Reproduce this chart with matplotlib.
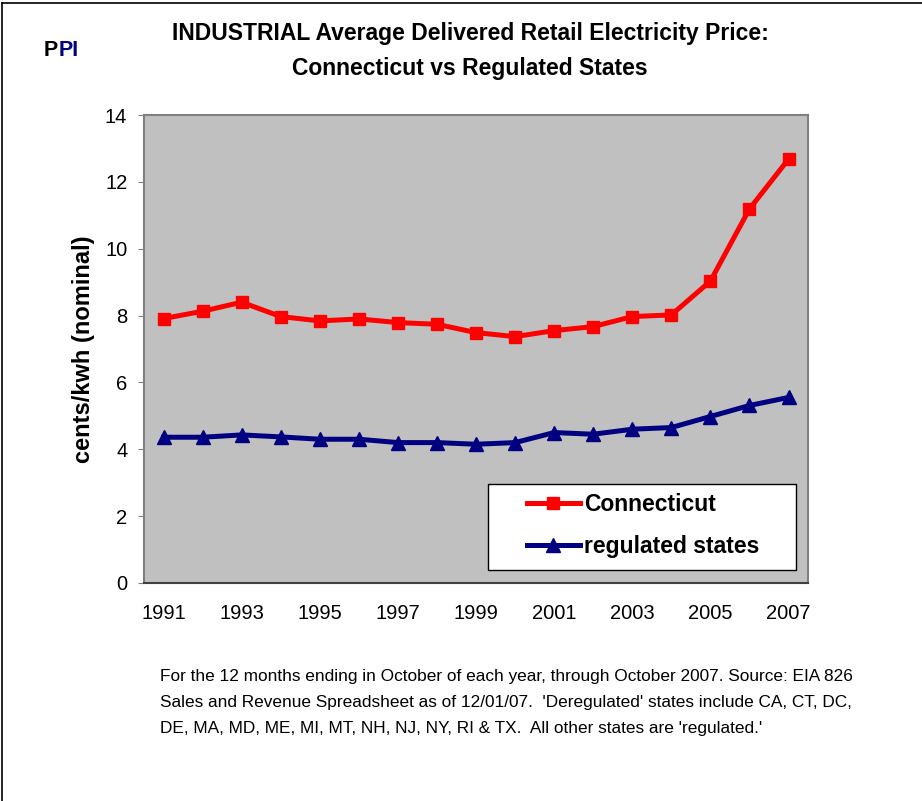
import matplotlib
matplotlib.use("Agg")
from matplotlib import pyplot as plt
from matplotlib.patches import Rectangle
from matplotlib.lines import Line2D

years = list(range(1991, 2008))
connecticut = [7.91, 8.13, 8.40, 7.97, 7.84, 7.90, 7.79, 7.74, 7.49, 7.37,
               7.55, 7.67, 7.97, 8.02, 9.03, 11.19, 12.68]
regulated = [4.36, 4.36, 4.43, 4.37, 4.30, 4.30, 4.20, 4.20, 4.15, 4.20,
             4.50, 4.45, 4.60, 4.65, 4.98, 5.31, 5.55]
xlabels = [str(y) for y in range(1991, 2008, 2)]
ylabels = list(range(0, 15, 2))

plt.rcParams['font.family'] = ['Liberation Sans', 'DejaVu Sans']

fig = plt.figure(figsize=(9.22, 8.01), dpi=100)

# figure frame (left/top edges visible in the original)
fig.add_artist(Line2D([0.002, 0.002], [0, 0.996], transform=fig.transFigure, color="black", lw=1.2))
fig.add_artist(Line2D([0.002, 1.0], [0.996, 0.996], transform=fig.transFigure, color="black", lw=1.2))

ax = fig.add_axes([0.1562, 0.2722, 0.7202, 0.5842])
ax.set_facecolor("#C0C0C0")

ax.plot(years, connecticut, color="#FF0000", lw=3.6, marker="s", ms=8, label="Connecticut")
ax.plot(years, regulated, color="#000080", lw=3.6, marker="^", ms=9.5, label="regulated states")

ax.set_xlim(1990.5, 2007.5)
ax.set_ylim(0, 14)
ax.set_xticks(range(1991, 2008, 2))
ax.set_xticklabels(xlabels)
ax.set_yticks(ylabels)
ax.tick_params(axis="x", length=0, pad=15, labelsize=14.5)
ax.tick_params(axis="y", length=4, color="#808080", pad=8, labelsize=14.5)

for side in ["left", "top", "right"]:
    ax.spines[side].set_color("#808080")
    ax.spines[side].set_linewidth(1.5)
ax.spines["bottom"].set_color("#404040")
ax.spines["bottom"].set_linewidth(1.5)

ax.set_ylabel("cents/kwh (nominal)", fontsize=17, fontweight="bold", labelpad=7)

# legend box
ax.add_patch(Rectangle((0.518, 0.028), 0.464, 0.184, transform=ax.transAxes,
                       facecolor="white", edgecolor="black", lw=1, zorder=3))
leg = ax.legend(loc="center", bbox_to_anchor=(0.752, 0.123), frameon=False,
                prop={"size": 16.5, "weight": "bold"}, handlelength=2.3,
                handletextpad=0.2, labelspacing=0.85)
leg.set_zorder(4)

fig.text(0.51, 1 - 51 / 801, "INDUSTRIAL Average Delivered Retail Electricity Price:\nConnecticut vs Regulated States",
         ha="center", va="center", fontsize=16.5, fontweight="bold", linespacing=1.65)

fig.text(0.047, 1 - 50 / 801, "P", ha="left", va="center", fontsize=15.5, fontweight="bold", color="black")
fig.text(0.0635, 1 - 50 / 801, "PI", ha="left", va="center", fontsize=15.5, fontweight="bold", color="#000080")

fig.text(0.173, 1 - 669 / 801,
         "For the 12 months ending in October of each year, through October 2007. Source: EIA 826\n"
         "Sales and Revenue Spreadsheet as of 12/01/07.  'Deregulated' states include CA, CT, DC,\n"
         "DE, MA, MD, ME, MI, MT, NH, NJ, NY, RI & TX.  All other states are 'regulated.'",
         ha="left", va="top", fontsize=12.4, linespacing=1.9)

fig.savefig("out.png", dpi=100)
